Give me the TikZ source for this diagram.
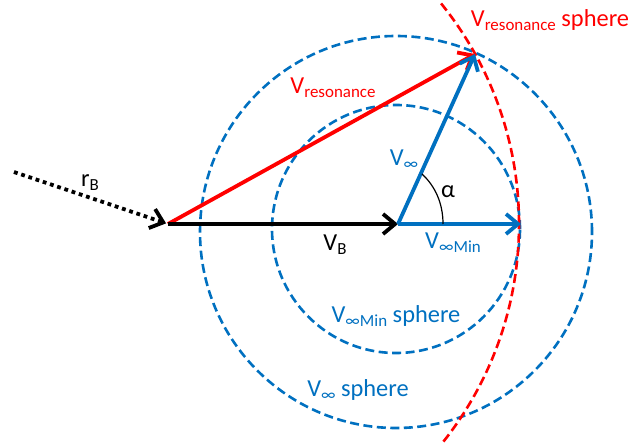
\documentclass[tikz,border=0pt]{standalone}
\usepackage{fontspec}
\setmainfont{Carlito}
\usetikzlibrary{arrows.meta}
\definecolor{pblue}{RGB}{0,112,192}
\definecolor{pred}{RGB}{255,0,0}
\newcommand{\lsub}[1]{\raisebox{-0.35ex}{\fontsize{17}{17}\selectfont #1}}
\begin{document}
\begin{tikzpicture}[x=1bp,y=-1bp,
  font=\fontsize{24.5}{28}\selectfont,
  vec/.style={line width=3.8bp, -{Straight Barb[length=12bp,width=20bp]}},
  bdash/.style={pblue, line width=2.6bp, dash pattern=on 9bp off 4.5bp},
  rdash/.style={pred, line width=2.6bp, dash pattern=on 9bp off 4.5bp},
  dotline/.style={line width=3.8bp, dash pattern=on 3.8bp off 3.8bp, -{Straight Barb[length=12bp,width=20bp]}},
  lbl/.style={inner sep=0pt}]
\useasboundingbox (0,0) rectangle (632,445);
% spheres
\draw[bdash] (396,229) circle[radius=124bp];
\draw[bdash] (396,232) circle[radius=196bp];
\begin{scope}
  \clip (300,3) rectangle (632,442);
  \draw[rdash] (168,224) circle[radius=351bp];
\end{scope}
% points
\coordinate (R0) at (14,172);
\coordinate (S) at (168,224);
\coordinate (O) at (398,224);
\coordinate (T) at (475,54);
\coordinate (M) at (521,224);
\coordinate (A1) at (443,224);
\coordinate (A2) at (422,174);
% vectors
\draw[dotline, shorten >=2bp] (R0) -- (S);
\draw[vec, pred] (S) -- (T);
\draw[vec, black] (S) -- (O);
\draw[vec, pblue] (O) -- (T);
\draw[vec, pblue] (O) -- (M);
% angle
\draw[line width=1.2bp] (A1) .. controls (443,203) and (435,186) .. (A2);
% labels
\node[lbl] (lrb) at (90,183) {r\lsub{B}};
\node[lbl] (lvb) at (335,245) {V\lsub{B}};
\node[lbl, pblue] (lvmin) at (453,243) {V\lsub{∞Min}};
\node[lbl, pblue] (lvinf) at (404,160) {V\lsub{∞}};
\node[lbl] (lalpha) at (448,192) {α};
\node[lbl, pred] (lvres) at (333,88) {V\lsub{resonance}};
\node[lbl, pred] (lvress) at (550,20) {V\lsub{resonance} sphere};
\node[lbl, pblue] (lvmins) at (396,316) {V\lsub{∞Min} sphere};
\node[lbl, pblue] (lvinfs) at (358,390) {V\lsub{∞} sphere};
\end{tikzpicture}
\end{document}
